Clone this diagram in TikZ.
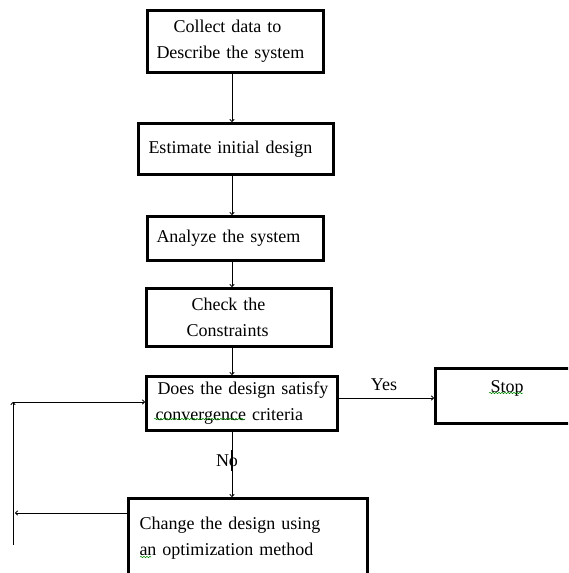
\documentclass[tikz,border=0pt]{standalone}
\usepackage{fontspec}
\setmainfont{Liberation Serif}
\usetikzlibrary{arrows.meta,decorations.pathmorphing}

\begin{document}
\begin{tikzpicture}[x=1pt,y=-1pt,
  font=\fontsize{18}{26}\selectfont,
  stepbox/.style={draw,line width=3pt,anchor=north west,align=left,inner ysep=0pt},
  arr/.style={line width=0.8pt,-{To[length=3pt,width=5pt]}},
  squiggle/.style={green!55!black,line width=0.5pt,decorate,
    decoration={snake,segment length=3pt,amplitude=0.7pt}}]
\path[use as bounding box,clip] (0,0) rectangle (568,573);
% boxes
\node[stepbox,inner xsep=9pt,text width=158pt,minimum height=62pt] (collect) at (146,9)
  {\hspace*{17pt}Collect data to\\Describe the system};
\node[stepbox,inner xsep=10pt,text width=175pt,minimum height=51pt] (estimate) at (137,122)
  {Estimate initial design};
\node[stepbox,inner xsep=9pt,text width=158pt,minimum height=44pt] (analyze) at (146,215)
  {Analyze the system};
\node[stepbox,inner xsep=9pt,text width=167pt,minimum height=58pt] (check) at (145,287)
  {\hspace*{36pt}Check the\\\hspace*{31pt}Constraints};
\node[stepbox,inner xsep=9pt,text width=173pt,minimum height=54pt] (satisfy) at (145,375)
  {\hspace*{2pt}Does the design satisfy\\convergence criteria};
\node[stepbox,inner xsep=9pt,text width=126pt,minimum height=55pt,text depth=19pt] (stop) at (434,367)
  {\hspace*{46pt}Stop};
\node[stepbox,inner xsep=11pt,text width=217pt,minimum height=80pt] (change) at (127,497)
  {Change the design using\\an optimization method};
% main line
\coordinate (spine) at (232,0);
\draw[arr] (collect.south -| spine) -- (estimate.north -| spine);
\draw[arr] (estimate.south -| spine) -- (analyze.north -| spine);
\draw[arr] (analyze.south -| spine) -- (check.north -| spine);
\draw[arr] (check.south -| spine) -- (satisfy.north -| spine);
\draw[arr] (satisfy.south -| spine) -- (change.north -| spine);
\node (no) at (227,461) {No};
\draw[line width=2pt] (232,450) -- (232,471);
% yes branch
\coordinate (yesline) at (0,398);
\draw[arr] (satisfy.east |- yesline) -- (stop.west |- yesline);
\node (yes) at (384,385) {Yes};
% loop back
\coordinate (loopbot) at (13,545);
\coordinate (looptop) at (13,402);
\coordinate (backend) at (15,513);
\draw[arr] (loopbot) -- (looptop);
\draw[arr] (looptop) -- (satisfy.west |- looptop);
\draw[arr] (change.west |- backend) -- (backend);
% spell marks
\draw[squiggle] (154,419) -- (245,419);
\draw[squiggle] (489,393) -- (523,393);
\draw[squiggle] (140,557) -- (151,557);
\end{tikzpicture}
\end{document}
